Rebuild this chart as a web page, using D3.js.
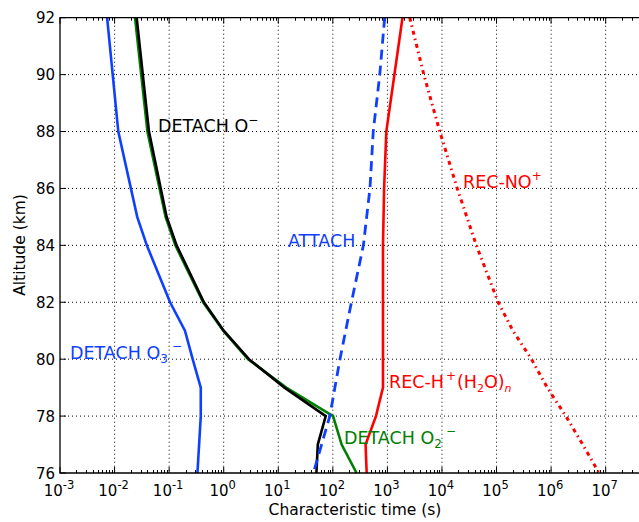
<!DOCTYPE html>
<meta charset="utf-8">
<style>
body { margin: 0; background: #fff; }
text { font-family: "DejaVu Sans", sans-serif; }
.grid line { stroke: #000; stroke-width: 1; stroke-dasharray: 1,3; }
</style>
<svg width="639" height="522"></svg>
<script src="https://cdn.jsdelivr.net/npm/d3@7"></script>
<script>

// altitude (km) and characteristic time (s) for each curve
var detachO3Alt = [92, 88, 85, 84, 82, 81, 80, 79, 78, 76];
var detachO3 = [0.0073, 0.0117, 0.026, 0.039, 0.104, 0.195, 0.27, 0.38, 0.38, 0.33];

var detachOAlt = [92, 88, 85, 84, 82, 81, 80, 79, 78, 77, 76];
var detachO = [0.0254, 0.0427, 0.09, 0.137, 0.434, 1.0, 2.9, 13, 74, 53, 50];

var detachO2Alt = [92, 88, 85, 84, 82, 81, 80, 79, 78, 77, 76];
var detachO2 = [0.0237, 0.040, 0.086, 0.13, 0.42, 0.98, 2.8, 14, 101, 145, 272];

var attachAlt = [92, 90, 88, 86, 84, 82, 80, 78, 76];
var attach = [891, 724, 550, 479, 363, 219, 135, 88, 44];

var recHAlt = [92, 88, 86, 84, 82, 80, 79, 78, 77, 76];
var recH = [1890, 955, 870, 830, 830, 830, 830, 617, 398, 417];

var recNOAlt = [92, 90, 88, 86, 84, 82, 81, 80, 79, 78, 77, 76];
var recNO = [2570, 4650, 9120, 19050, 42660, 107200, 199500, 436500, 850000, 1860000, 3800000, 7586000];

var xTickExp = [-3, -2, -1, 0, 1, 2, 3, 4, 5, 6, 7];
var yTicks = [76, 78, 80, 82, 84, 86, 88, 90, 92];

var blue = "#0f40ff", red = "#ff0000", green = "#008000";

var svg = d3.select("svg"),
    pL = 60, pR = 640, pT = 17.7, pB = 473;

var x = d3.scaleLog().domain([1e-3, Math.pow(10, 7.629)]).range([pL, pR]);
var y = d3.scaleLinear().domain([76, 92]).range([pB, pT]);

// grid
var grid = svg.append("g").attr("class", "grid");
grid.selectAll(".gx").data(xTickExp.slice(1)).enter().append("line")
    .attr("x1", function(d) { return x(Math.pow(10, d)); })
    .attr("x2", function(d) { return x(Math.pow(10, d)); })
    .attr("y1", pT).attr("y2", pB);
grid.selectAll(".gy").data(yTicks.slice(1, -1)).enter().append("line")
    .attr("y1", function(d) { return y(d); })
    .attr("y2", function(d) { return y(d); })
    .attr("x1", pL).attr("x2", pR);

// minor + major ticks (inward, top and bottom)
var minor = [];
xTickExp.forEach(function(e) {
    for (var k = 2; k < 10; k++) {
        var v = k * Math.pow(10, e);
        if (v < x.domain()[1]) minor.push(v);
    }
});
var ticks = svg.append("g").attr("stroke", "#000").attr("stroke-width", 1);
minor.forEach(function(v) {
    var px = Math.round(x(v)) + 0.5;
    ticks.append("line").attr("x1", px).attr("x2", px).attr("y1", pB).attr("y2", pB - 3);
    ticks.append("line").attr("x1", px).attr("x2", px).attr("y1", pT).attr("y2", pT + 3);
});
xTickExp.forEach(function(e) {
    var px = x(Math.pow(10, e));
    ticks.append("line").attr("x1", px).attr("x2", px).attr("y1", pB).attr("y2", pB - 6);
    ticks.append("line").attr("x1", px).attr("x2", px).attr("y1", pT).attr("y2", pT + 6);
});
yTicks.forEach(function(t) {
    ticks.append("line").attr("x1", pL).attr("x2", pL + 6).attr("y1", y(t)).attr("y2", y(t));
});

// curves
var line = d3.line();
function curve(alts, vals, color, dash, w) {
    svg.append("path")
        .attr("d", line(alts.map(function(a, i) { return [x(vals[i]), y(a)]; })))
        .attr("fill", "none")
        .attr("stroke", color)
        .attr("stroke-width", w || 2.6)
        .attr("stroke-dasharray", dash || null);
}

curve(detachO3Alt, detachO3, blue);
curve(detachO2Alt, detachO2, green);
curve(detachOAlt, detachO, "#000");
curve(attachAlt, attach, blue, "10,6", 2.8);
curve(recHAlt, recH, red);
curve(recNOAlt, recNO, red, "4,4,1.5,4", 3);

// frame
svg.append("path")
    .attr("d", "M" + pR + "," + pT + "H" + pL + "V" + pB + "H" + pR)
    .attr("fill", "none").attr("stroke", "#000").attr("stroke-width", 1.3);

// tick labels
var xl = svg.append("g").attr("font-size", 15).attr("text-anchor", "middle");
xTickExp.forEach(function(e) {
    var t = xl.append("text").attr("x", x(Math.pow(10, e)) - 1).attr("y", 496);
    t.append("tspan").text("10");
    t.append("tspan").attr("font-size", 11.5).attr("dy", -7).text(e < 0 ? "-" + (-e) : e);
});
svg.append("g").attr("font-size", 15).attr("text-anchor", "end")
    .selectAll("text").data(yTicks).enter().append("text")
    .attr("x", 55).attr("y", function(d) { return y(d) + 5.5; })
    .text(function(d) { return d; });

svg.append("text").attr("x", 355).attr("y", 515).attr("font-size", 15.5)
    .attr("text-anchor", "middle").text("Characteristic time (s)");
svg.append("text").attr("transform", "translate(25,245) rotate(-90)").attr("font-size", 15.5)
    .attr("text-anchor", "middle").text("Altitude (km)");

// curve labels
var lab = svg.append("g").attr("font-size", 17.5);
var t1 = lab.append("text").attr("x", 158).attr("y", 132).attr("fill", "#000");
t1.append("tspan").text("DETACH O");
t1.append("tspan").attr("font-size", 12).attr("dy", -8).text("\u2212");

lab.append("text").attr("x", 288).attr("y", 247).attr("fill", blue).text("ATTACH");

var t2 = lab.append("text").attr("x", 463).attr("y", 188).attr("fill", red);
t2.append("tspan").text("REC-NO");
t2.append("tspan").attr("font-size", 12).attr("dy", -8).text("+");

var t3 = lab.append("text").attr("x", 70).attr("y", 359).attr("fill", blue);
t3.append("tspan").text("DETACH O");
t3.append("tspan").attr("font-size", 12).attr("dy", 4).text("3");
t3.append("tspan").attr("font-size", 12).attr("dy", -13).attr("dx", 4).text("\u2212");

var t4 = lab.append("text").attr("x", 389).attr("y", 388).attr("fill", red);
t4.append("tspan").text("REC-H");
t4.append("tspan").attr("font-size", 12).attr("dy", -8).attr("dx", 2).text("+");
t4.append("tspan").attr("dy", 8).attr("dx", 1).text("(H");
t4.append("tspan").attr("font-size", 11).attr("dy", 4).text("2");
t4.append("tspan").attr("dy", -4).text("O)");
t4.append("tspan").attr("font-size", 11).attr("dy", 4).attr("font-style", "italic").text("n");

var t5 = lab.append("text").attr("x", 344).attr("y", 444).attr("fill", green);
t5.append("tspan").text("DETACH O");
t5.append("tspan").attr("font-size", 12).attr("dy", 4).text("2");
t5.append("tspan").attr("font-size", 12).attr("dy", -13).attr("dx", 4).text("\u2212");

</script>
